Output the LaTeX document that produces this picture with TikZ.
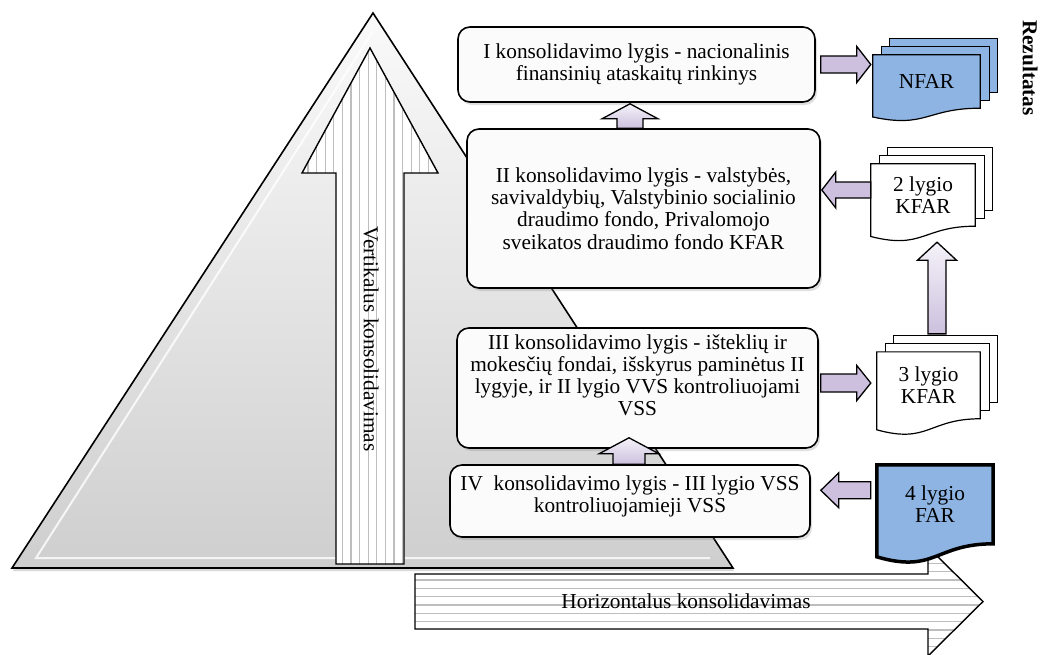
\documentclass[tikz,border=0pt]{standalone}
\usepackage{fontspec}
\setmainfont{Liberation Serif}
\usepackage{tikz}
\usetikzlibrary{calc,backgrounds,shadows}

\definecolor{docblue}{RGB}{141,180,226}
\definecolor{arrlilac}{RGB}{204,192,222}
\definecolor{stripegray}{RGB}{190,190,190}

\newcommand{\lvlfont}{\fontsize{21.3}{22.2}\selectfont}

% block arrow from #2 to tip #3: shaft half width, head half width, head length
\newcommand{\fatarrow}[6][]{%
  \coordinate (fa-s) at (#2);
  \coordinate (fa-t) at (#3);
  \coordinate (fa-h) at ($(fa-t)!#6!(fa-s)$);
  \draw[fat,#1] ($(fa-s)!#4!90:(fa-t)$) -- ($(fa-h)!#4!90:(fa-t)$)
    -- ($(fa-h)!#5!90:(fa-t)$) -- (fa-t) -- ($(fa-h)!#5!-90:(fa-t)$)
    -- ($(fa-h)!#4!-90:(fa-t)$) -- ($(fa-s)!#4!-90:(fa-t)$) -- cycle;
}
% document sheet with wavy bottom under a node
\newcommand{\docsheet}[2]{%
  \path[#2] (#1.north west) -- (#1.north east) -- (#1.south east)
    .. controls (#1.south) and ($(#1.north)!1.38!(#1.south)$)
    .. ($(#1.north west)!1.165!(#1.south west)$) -- cycle;
}
\newcommand{\docstack}[2]{%
  \begin{scope}[on background layer]
    \draw[line width=1.2pt, fill=#2] ([shift={(17,-16)}]#1.north west) rectangle ([shift={(17,-16)}]#1.south east);
    \draw[line width=1.2pt, fill=#2] ([shift={(9,-8)}]#1.north west) rectangle ([shift={(9,-8)}]#1.south east);
    \docsheet{#1}{draw, line width=1.2pt, fill=#2}
  \end{scope}
}

\begin{document}
\begin{tikzpicture}[
  x=1pt, y=-1pt,
  lvl/.style={rectangle, rounded corners=12pt, draw, line width=1.6pt, fill=gray!3, inner sep=0pt, align=center, font=\lvlfont,
    drop shadow={shadow xshift=2pt, shadow yshift=-3pt, opacity=0.25}},
  doc/.style={rectangle, inner sep=0pt, align=center, font=\lvlfont},
  fat/.style={draw, line width=1.3pt, fill=arrlilac, line join=miter},
  up/.style={top color=arrlilac!20, bottom color=arrlilac},
  stripe/.style={stripegray, line width=1.3pt}
]
  \useasboundingbox (0,0) rectangle (1040,654);

  \begin{scope}[on background layer]
    \draw[line width=1.4pt, fill=white,
      path picture={\foreach \i in {0,...,13} \draw[stripe] (400,{546.7+8.33*\i}) -- (1000,{546.7+8.33*\i});}]
      (415,574) -- (928,574) -- (928,547) -- (983,601.5) -- (928,656) -- (928,629) -- (415,629) -- cycle;
  \end{scope}

  \draw[line width=1.6pt, top color=gray!4, bottom color=gray!38,
    drop shadow={shadow xshift=1pt, shadow yshift=-3pt, opacity=0.3}]
    (373,13) -- (733,568) -- (12,568) -- cycle;
  \draw[white, line width=2pt, opacity=0.8] (373,31) -- (36,558) -- (710,558);

  \draw[line width=1.4pt, fill=white,
    path picture={\foreach \i in {0,...,15} \draw[stripe] ({308+8.6*\i},40) -- ({308+8.6*\i},570);}]
    (336,564) -- (336,173) -- (302,173) -- (370,48) -- (438,173) -- (404,173) -- (404,564) -- cycle;
  \node[font=\lvlfont, rotate=-90] (Vertical) at (371,339) {Vertikalus konsolidavimas};
  \node[font=\lvlfont] (Horizontal) at (686,601) {Horizontalus konsolidavimas};

  \node[lvl, minimum width=357, minimum height=75] (LevelOne) at (636.5,64.5)
    {I konsolidavimo lygis - nacionalinis\\finansinių ataskaitų rinkinys};
  \node[lvl, minimum width=353, minimum height=159] (LevelTwo) at (643.5,208.5)
    {II konsolidavimo lygis - valstybės,\\savivaldybių, Valstybinio socialinio\\draudimo fondo, Privalomojo\\sveikatos draudimo fondo KFAR};
  \node[lvl, minimum width=361, minimum height=120] (LevelThree) at (637.5,388)
    {III konsolidavimo lygis - išteklių ir\\mokesčių fondai, išskyrus paminėtus II\\lygyje, ir II lygio VVS kontroliuojami\\VSS\\[4pt]\mbox{}};
  \node[lvl, minimum width=360, minimum height=72] (LevelFour) at (630,501)
    {IV\ \ konsolidavimo lygis - III lygio VSS\\kontroliuojamieji VSS\\[-8pt]\mbox{}};

  \node[doc, minimum width=107, minimum height=53] (NFAR) at (926.5,81.5) {NFAR};
  \docstack{NFAR}{docblue}
  \node[doc, minimum width=104, minimum height=62] (KFARTwo) at (923,195) {2 lygio\\KFAR};
  \docstack{KFARTwo}{white}
  \node[doc, minimum width=103, minimum height=66.5] (KFARThree) at (928.5,385.3) {3 lygio\\KFAR};
  \docstack{KFARThree}{white}
  \node[doc, minimum width=116, minimum height=78.6] (FAR) at (935,504.3) {4 lygio\\FAR};
  \begin{scope}[on background layer]
    \docsheet{FAR}{draw, line width=3.5pt, fill=docblue}
  \end{scope}

  \node[font=\lvlfont\bfseries, rotate=-90] (Result) at (1030,68) {Rezultatas};

  \fatarrow{$(LevelOne.east)+(5,0)$}{$(LevelOne.east -| NFAR.west)+(-2,0)$}{8.5pt}{18pt}{14pt}
  \fatarrow{$(KFARTwo.west)+(0,-5)$}{$(KFARTwo.west -| LevelTwo.east)+(1,-5)$}{8pt}{18pt}{14pt}
  \fatarrow{$(LevelThree.east)+(2,-5)$}{$(LevelThree.east -| KFARThree.west)+(-6,-5)$}{9pt}{17.5pt}{14pt}
  \fatarrow{$(FAR.west)+(-6,-14)$}{$(FAR.west -| LevelFour.east)+(10,-14)$}{8.5pt}{17.5pt}{18pt}
  \fatarrow[up]{$(LevelOne.south |- LevelTwo.north)+(-6.5,0)$}{$(LevelOne.south)+(-6.5,1)$}{13pt}{28pt}{15pt}
  \fatarrow[up]{$(LevelThree.south |- LevelFour.north)+(-8.5,0)$}{$(LevelThree.south)+(-8.5,-11)$}{16pt}{30pt}{16pt}
  \fatarrow[up]{$(KFARThree.north)+(8.5,-18)$}{$(KFARThree.north |- KFARTwo.south)+(8.5,16)$}{9pt}{19.5pt}{18pt}
\end{tikzpicture}
\end{document}
